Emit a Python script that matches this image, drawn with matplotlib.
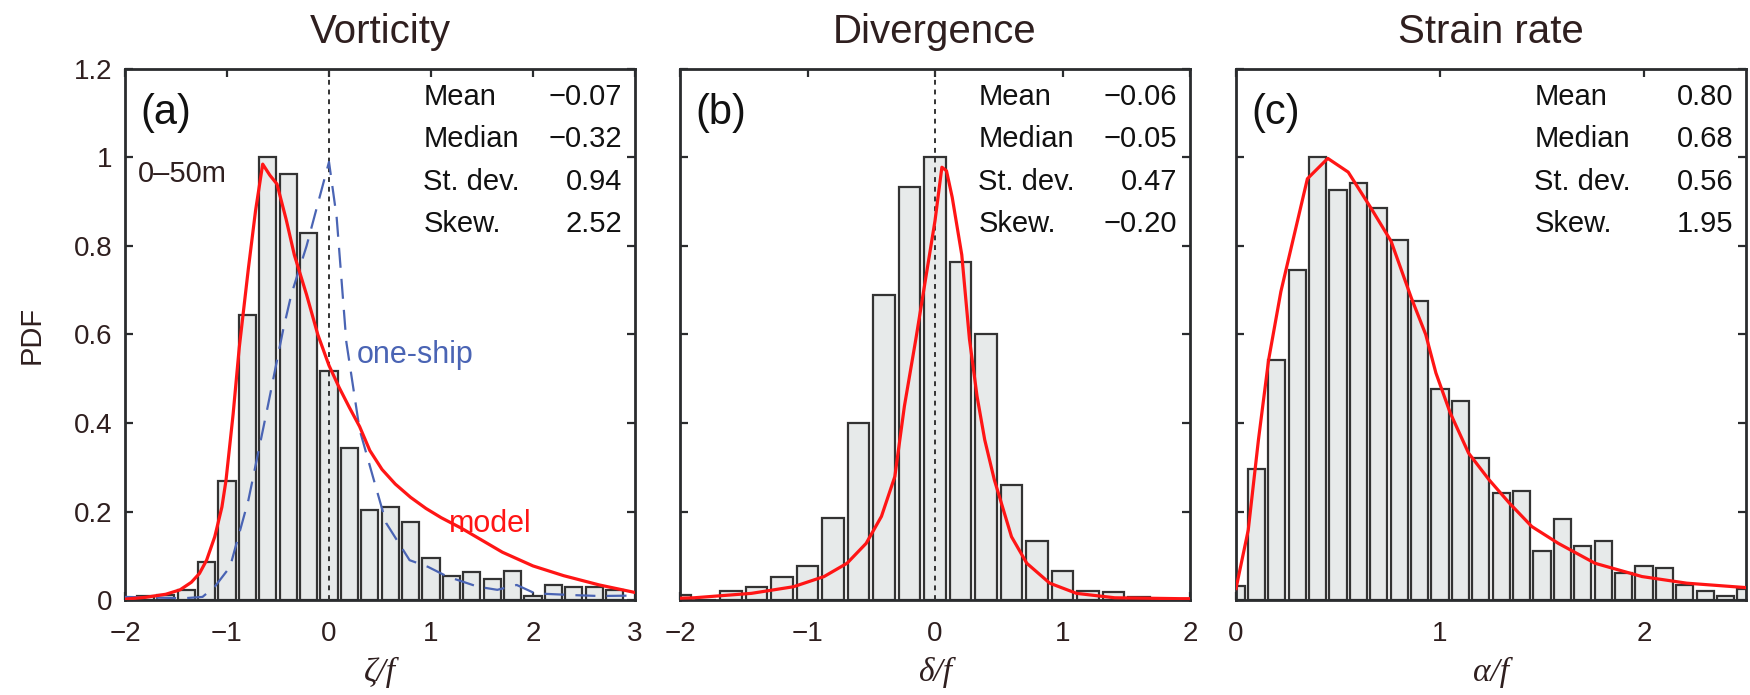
import numpy as np
import matplotlib
matplotlib.use('Agg')
import matplotlib.pyplot as plt

plt.rcParams['font.family'] = ['Liberation Sans', 'DejaVu Sans']

# histogram bins and values
vort_x = [-1.8, -1.6, -1.4, -1.2, -1.0, -0.8, -0.6, -0.4, -0.2, 0.0, 0.2, 0.4,
          0.6, 0.8, 1.0, 1.2, 1.4, 1.6, 1.8, 2.0, 2.2, 2.4, 2.6, 2.8]
vort_pdf = [0.008, 0.012, 0.022, 0.087, 0.27, 0.645, 1.0, 0.962, 0.829, 0.517, 0.343, 0.204,
            0.211, 0.176, 0.096, 0.055, 0.063, 0.047, 0.065, 0.009, 0.035, 0.030, 0.030, 0.022]

div_x = [-2.0, -1.8, -1.6, -1.4, -1.2, -1.0, -0.8, -0.6, -0.4, -0.2, 0.0, 0.2, 0.4,
         0.6, 0.8, 1.0, 1.2, 1.4, 1.6, 1.8]
div_pdf = [0.011, 0.0, 0.021, 0.029, 0.053, 0.077, 0.186, 0.40, 0.689, 0.933, 1.0, 0.764, 0.60,
           0.26, 0.134, 0.066, 0.021, 0.019, 0.006, 0.002]

str_x = [0.0, 0.1, 0.2, 0.3, 0.4, 0.5, 0.6, 0.7, 0.8, 0.9, 1.0, 1.1, 1.2, 1.3, 1.4,
         1.5, 1.6, 1.7, 1.8, 1.9, 2.0, 2.1, 2.2, 2.3, 2.4, 2.5]
str_pdf = [0.032, 0.296, 0.542, 0.745, 1.0, 0.926, 0.942, 0.885, 0.813, 0.676, 0.477, 0.449,
           0.32, 0.242, 0.247, 0.11, 0.183, 0.121, 0.134, 0.06, 0.077, 0.073, 0.035, 0.021,
           0.01, 0.024]

# model curves (red)
vort_model_x = [-2.0, -1.8, -1.6, -1.46, -1.35, -1.27, -1.2, -1.12, -1.05, -1.01, -0.94, -0.88,
                -0.79, -0.72, -0.65, -0.58, -0.51, -0.42, -0.34, -0.22, -0.11, 0.0, 0.1, 0.2,
                0.3, 0.4, 0.52, 0.65, 0.8, 0.95, 1.1, 1.3, 1.5, 1.7, 2.0, 2.3, 2.65, 3.0]
vort_model_y = [0.002, 0.006, 0.013, 0.023, 0.04, 0.06, 0.09, 0.143, 0.21, 0.27, 0.42, 0.57,
                0.75, 0.88, 0.985, 0.96, 0.94, 0.86, 0.78, 0.69, 0.6, 0.53, 0.48, 0.435,
                0.392, 0.338, 0.295, 0.262, 0.232, 0.207, 0.186, 0.162, 0.135, 0.108, 0.077,
                0.055, 0.034, 0.017]

# one-ship curve (blue dashed)
ship_x = [-2.0, -1.42, -1.24, -1.12, -0.97, -0.79, -0.6, -0.45, -0.37, -0.22, 0.0, 0.075, 0.17,
          0.3, 0.43, 0.56, 0.79, 0.97, 1.16, 1.46, 1.65, 1.84, 2.02, 2.4, 2.65, 3.0]
ship_y = [0.007, 0.004, 0.007, 0.03, 0.075, 0.226, 0.438, 0.61, 0.69, 0.80, 0.99, 0.865, 0.583,
          0.385, 0.279, 0.174, 0.09, 0.075, 0.053, 0.03, 0.023, 0.034, 0.015, 0.011, 0.009, 0.01]

div_model_x = [-2.0, -1.89, -1.44, -1.11, -0.87, -0.69, -0.54, -0.42, -0.315, -0.24, -0.15, 0.0,
               0.054, 0.09, 0.135, 0.21, 0.27, 0.33, 0.39, 0.465, 0.6, 0.72, 0.9, 1.11, 1.41,
               1.92, 2.0]
div_model_y = [0.004, 0.005, 0.015, 0.03, 0.053, 0.083, 0.128, 0.189, 0.279, 0.438, 0.59, 0.857,
               0.978, 0.97, 0.91, 0.78, 0.59, 0.46, 0.362, 0.272, 0.143, 0.083, 0.038, 0.015,
               0.005, 0.003, 0.003]

str_model_x = [0.0, 0.06, 0.11, 0.16, 0.22, 0.35, 0.45, 0.55, 0.66, 0.76, 0.86, 0.93, 0.98, 1.05,
               1.14, 1.24, 1.34, 1.45, 1.58, 1.76, 1.99, 2.21, 2.5]
str_model_y = [0.026, 0.158, 0.362, 0.543, 0.697, 0.952, 0.998, 0.967, 0.887, 0.811, 0.682, 0.6,
               0.513, 0.423, 0.332, 0.272, 0.219, 0.166, 0.128, 0.083, 0.053, 0.038, 0.028]

titles = ['Vorticity', 'Divergence', 'Strain rate']
letters = ['(a)', '(b)', '(c)']
xlabels = ['ζ/f', 'δ/f', 'α/f']
stat_names = ['Mean', 'Median', 'St. dev.', 'Skew.']
stat_vals = [['−0.07', '−0.32', '0.94', '2.52'],
             ['−0.06', '−0.05', '0.47', '−0.20'],
             ['0.80', '0.68', '0.56', '1.95']]
xlims = [(-2, 3), (-2, 2), (0, 2.5)]
xticks = [[-2, -1, 0, 1, 2, 3], [-2, -1, 0, 1, 2], [0, 1, 2]]
xticklabels = [['−2', '−1', '0', '1', '2', '3'], ['−2', '−1', '0', '1', '2'], ['0', '1', '2']]
yticks = [0, 0.2, 0.4, 0.6, 0.8, 1.0, 1.2]
yticklabels = ['0', '0.2', '0.4', '0.6', '0.8', '1', '1.2']

txt = '#2f1f1f'
spine = '#2a2c2e'
bar_face = '#e7eaea'

fig = plt.figure(figsize=(17.5, 6.95), dpi=100)
W, H = 1750.0, 695.0
lefts = [125, 680, 1236]
axs = [fig.add_axes([l / W, 95 / H, 510 / W, 531 / H]) for l in lefts]

data = [(vort_x, vort_pdf, 0.2, vort_model_x, vort_model_y),
        (div_x, div_pdf, 0.2, div_model_x, div_model_y),
        (str_x, str_pdf, 0.1, str_model_x, str_model_y)]

for i, ax in enumerate(axs):
    bx, by, bw, mx, my = data[i]
    ax.bar(bx, by, width=bw * 0.84, color=bar_face, edgecolor='#333333', linewidth=1.6, zorder=2)
    if i < 2:
        ax.axvline(0, color='#333333', linestyle=(0, (2.5, 2.5)), linewidth=1.4, zorder=3)
    if i == 0:
        ax.plot(ship_x, ship_y, color='#4a64b4', linestyle=(0, (9, 5)), linewidth=1.6, zorder=4)
    ax.plot(mx, my, color='#ff1515', linewidth=2.3, zorder=5)

    ax.set_xlim(*xlims[i])
    ax.set_ylim(0, 1.2)
    ax.set_xticks(xticks[i])
    ax.set_xticklabels(xticklabels[i])
    ax.set_yticks(yticks)
    if i == 0:
        ax.set_yticklabels(yticklabels)
    else:
        ax.set_yticklabels([])
    ax.tick_params(direction='in', length=6, width=1.6, color=spine, top=True, right=True,
                   labelsize=20, labelcolor=txt)
    ax.tick_params(axis='x', pad=15)
    ax.tick_params(axis='y', pad=9)
    for s in ax.spines.values():
        s.set_color(spine)
        s.set_linewidth(2.0)

    ax.set_title(titles[i], fontsize=29, color=txt, pad=19)
    ax.text(0.03, 0.917, letters[i], transform=ax.transAxes, fontsize=30, va='center', ha='left',
            color='#111111')
    ax.text(0.5, -0.137, xlabels[i], transform=ax.transAxes, fontsize=24, ha='center', va='center',
            family=['Liberation Serif', 'DejaVu Serif'], style='italic', color=txt)
    for k, (name, val) in enumerate(zip(stat_names, stat_vals[i])):
        yy = [0.932, 0.853, 0.773, 0.693][k]
        ax.text(0.585, yy, name, transform=ax.transAxes, fontsize=21, ha='left', va='baseline',
                color='#111111')
        ax.text(0.975, yy, val, transform=ax.transAxes, fontsize=21, ha='right', va='baseline',
                color='#111111')

axs[0].text(0.025, 0.787, '0–50m', transform=axs[0].transAxes, fontsize=21, ha='left',
            va='baseline', color=txt)
axs[0].text(0.27, 0.535, 'one-ship', fontsize=22, color='#4a64b4', ha='left', va='baseline')
axs[0].text(1.18, 0.154, 'model', fontsize=22, color='#ff1515', ha='left', va='baseline')
fig.text(32 / W, 1 - 335 / H, 'PDF', rotation=90, fontsize=21, ha='center', va='center', color=txt)

fig.savefig('out.png', dpi=100)
